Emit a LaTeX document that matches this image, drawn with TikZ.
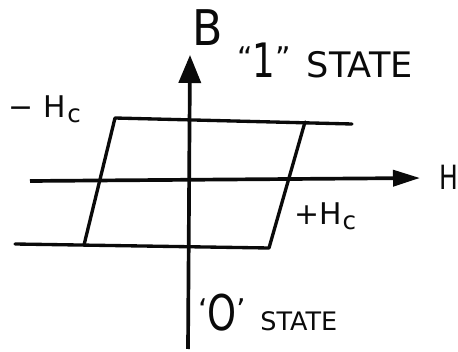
\documentclass[tikz,border=0pt]{standalone}
\usepackage{fontspec}
\setmainfont{DejaVu Sans}
\usetikzlibrary{arrows.meta}
\definecolor{ink}{RGB}{10,10,10}
\newcommand{\fsz}[1]{\fontsize{#1}{#1}\selectfont}
\newcommand{\hsub}{H\kern0.5pt\raisebox{-3pt}{\fsz{14}c}}
\newcommand{\narrow}[1]{\scalebox{0.75}[1]{#1}}
\newcommand{\hiq}[2]{\raisebox{#1}{\fsz{17}#2}}
\tikzset{
  axis/.style={draw=ink,line width=2.1pt},
  loopline/.style={draw=ink,line width=1.9pt,line join=round,line cap=round},
  tag/.style={text=ink,inner sep=0pt,anchor=base west},
}
\begin{document}
\begin{tikzpicture}[x=0.02cm,y=-0.02cm]
  \useasboundingbox (0,0) rectangle (458,352);
  % axes
  \coordinate (hleft) at (30,181);
  \coordinate (hright) at (420,178);
  \coordinate (bbottom) at (188,349);
  \coordinate (btop) at (190,55);
  \draw[axis,-{Triangle[length=5.4mm,width=3.2mm]}] (hleft) -- (hright);
  \draw[axis,-{Triangle[length=5.6mm,width=4.4mm]}] (bbottom) -- (btop);
  % hysteresis loop
  \coordinate (tl) at (115,118);
  \coordinate (tr) at (352,124);
  \coordinate (tk) at (305,122);
  \coordinate (bl) at (15,244);
  \coordinate (bk) at (84,245);
  \coordinate (br) at (269,248);
  \draw[loopline] (tr) -- (tl) -- (bk);
  \draw[loopline] (bl) -- (br) -- (tk);
  % labels
  \node[tag,font=\fsz{28}] (lb) at (192,45) {\scalebox{0.9}[1]{B}};
  \node[tag,font=\fsz{19}] (lh) at (439,189) {\narrow{H}};
  \node[tag,font=\fsz{20}] (one) at (237,77)
    {\hiq{5pt}{“}{\fsz{27}\narrow{1}}\hiq{5pt}{”}\kern9pt STATE};
  \node[tag,font=\fsz{14.5}] (zero) at (198,331)
    {\hiq{6pt}{‘}{\fsz{28}\narrow{O}}\hiq{6pt}{’}\kern8pt STATE};
  \node[tag,font=\fsz{17}] (mhc) at (8,117) {−\kern6pt\hsub};
  \node[tag,font=\fsz{17}] (phc) at (294,224) {+\hsub};
\end{tikzpicture}
\end{document}
